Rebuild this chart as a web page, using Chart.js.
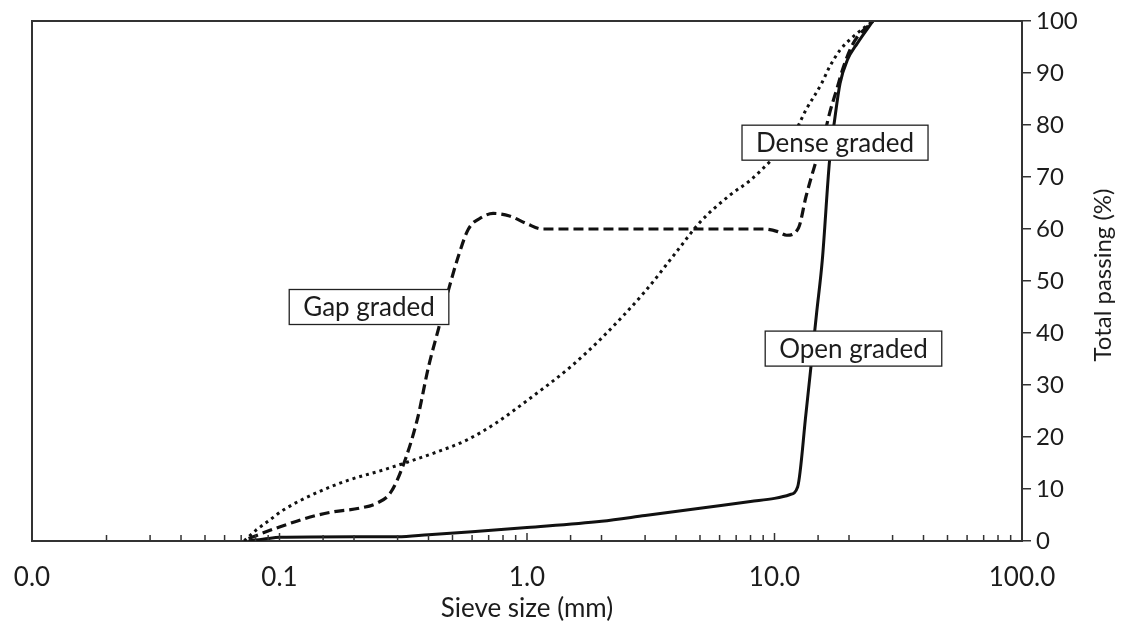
<!DOCTYPE html>
<html lang="en">
<head>
  <meta charset="UTF-8" />
  <title>Aggregate gradation curves</title>
  <script src="https://cdn.jsdelivr.net/npm/chart.js"></script>
  <style>
    html, body { margin: 0; padding: 0; background: #fff; }
  </style>
</head>
<body>
  <canvas id="gradationChart" width="1122" height="628"></canvas>

  <script>
    // Sieve size (mm) and total passing (%) for each gradation
    const openSize = [0.075, 0.09, 0.1, 0.2, 0.3, 0.4, 0.6, 1.0, 2.0, 3.0, 5.0, 8.0, 10.0, 11.5, 12.4, 13.4, 14.8, 15.6, 16.7, 17.5, 18.4, 19.7, 21.6, 25.0];
    const openPass = [0, 0.5, 0.7, 0.8, 0.8, 1.2, 1.8, 2.6, 3.8, 4.9, 6.3, 7.6, 8.2, 8.9, 10.4, 24.5, 43.9, 54.0, 73.3, 81.0, 88.0, 92.5, 95.7, 100];

    const gapSize = [0.075, 0.1, 0.133, 0.164, 0.21, 0.248, 0.28, 0.314, 0.36, 0.40, 0.44, 0.48, 0.53, 0.58, 0.66, 0.73, 0.85, 1.0, 1.15, 2.0, 5.0, 9.0, 10.3, 11.2, 12.5, 13.4, 14.5, 15.6, 16.7, 17.8, 19.0, 20.8, 25.0];
    const gapPass = [0.5, 2.7, 4.6, 5.6, 6.3, 7.3, 9.2, 14.2, 23.3, 33.5, 41.0, 48.0, 55.0, 60.0, 62.3, 63.0, 62.5, 61.0, 60.0, 60.0, 60.0, 60.0, 59.5, 58.8, 60.2, 66.2, 72.0, 76.5, 82.3, 86.7, 91.2, 95.7, 100];

    const denseSize = [0.072, 0.08, 0.09, 0.104, 0.14, 0.19, 0.26, 0.33, 0.42, 0.57, 0.75, 1.0, 1.5, 2.0, 3.0, 4.0, 5.0, 6.6, 8.0, 9.6, 11.6, 13.4, 15.5, 16.7, 18.4, 20.8, 25.0];
    const densePass = [0, 2.0, 3.8, 6.0, 9.2, 11.7, 13.6, 15.2, 16.9, 19.4, 22.7, 27.0, 33.5, 39.0, 48.0, 55.5, 61.3, 66.5, 69.4, 73.0, 77.0, 82.9, 88.0, 91.2, 94.4, 97.0, 100];

    // labelled decades on the sieve axis
    const xDecades = [0.01, 0.1, 1, 10, 100];

    // curve name boxes, anchored in data units (mm, %)
    const curveNotes = [
      { text: 'Gap graded', x: 0.23, y: 45.0 },
      { text: 'Dense graded', x: 17.56, y: 76.6 },
      { text: 'Open graded', x: 20.85, y: 37.0 }
    ];

    const FONT = 'Lato, "Open Sans", sans-serif';
    const INK = '#1c1c1c';

    const toPoints = (xs, ys) => xs.map((x, i) => ({ x: x, y: ys[i] }));
    const isDecade = v => Math.abs(Math.log10(v) - Math.round(Math.log10(v))) < 1e-6;

    // frame, inward sieve ticks, right-hand title and the name boxes
    const decorations = {
      id: 'decorations',
      afterDatasetsDraw(chart) {
        const { ctx, chartArea: a, scales: { x, y } } = chart;
        ctx.save();

        // top and left edges of the plot box
        ctx.strokeStyle = '#333';
        ctx.lineWidth = 2;
        ctx.beginPath();
        ctx.moveTo(a.left, a.bottom);
        ctx.lineTo(a.left, a.top);
        ctx.lineTo(a.right, a.top);
        ctx.stroke();

        // tick marks pointing up into the plot
        ctx.lineWidth = 1.5;
        x.ticks.forEach(t => {
          const px = x.getPixelForValue(t.value);
          const len = isDecade(t.value) ? 8 : 6;
          ctx.beginPath();
          ctx.moveTo(px, a.bottom);
          ctx.lineTo(px, a.bottom - len);
          ctx.stroke();
        });

        // name boxes
        ctx.font = '26px ' + FONT;
        ctx.textAlign = 'center';
        ctx.textBaseline = 'middle';
        curveNotes.forEach(n => {
          const cx = x.getPixelForValue(n.x);
          const cy = y.getPixelForValue(n.y);
          const w = ctx.measureText(n.text).width + 28;
          const h = 35;
          ctx.fillStyle = '#fff';
          ctx.fillRect(cx - w / 2, cy - h / 2, w, h);
          ctx.strokeStyle = '#222';
          ctx.lineWidth = 1.3;
          ctx.strokeRect(cx - w / 2, cy - h / 2, w, h);
          ctx.fillStyle = INK;
          ctx.fillText(n.text, cx, cy + 1);
        });

        // y axis title, reading bottom to top
        ctx.translate(1103, (a.top + a.bottom) / 2 - 6);
        ctx.rotate(-Math.PI / 2);
        ctx.font = '24px ' + FONT;
        ctx.fillStyle = INK;
        ctx.fillText('Total passing (%)', 0, 0);
        ctx.restore();
      }
    };

    const curve = (label, xs, ys, extra) => Object.assign({
      label: label,
      data: toPoints(xs, ys),
      showLine: true,
      borderColor: '#111',
      borderWidth: 3,
      pointRadius: 0,
      cubicInterpolationMode: 'monotone',
      fill: false
    }, extra);

    new Chart(document.getElementById('gradationChart'), {
      type: 'scatter',
      data: {
        datasets: [
          curve('Open graded', openSize, openPass, {}),
          curve('Gap graded', gapSize, gapPass, { borderDash: [10, 5], borderWidth: 3.2 }),
          curve('Dense graded', denseSize, densePass, { borderDash: [3, 4], borderWidth: 3 })
        ]
      },
      options: {
        responsive: false,
        devicePixelRatio: 1,
        animation: false,
        layout: { padding: { left: 32, top: 21, right: 0, bottom: 0 } },
        plugins: {
          legend: { display: false },
          tooltip: { enabled: false }
        },
        scales: {
          x: {
            type: 'logarithmic',
            position: 'bottom',
            min: 0.01,
            max: 100,
            grid: { display: true, drawOnChartArea: false, drawTicks: false },
            border: { display: true, color: '#333', width: 2 },
            ticks: {
              autoSkip: false,
              maxRotation: 0,
              padding: 21,
              color: INK,
              font: { family: FONT, size: 26 },
              callback: v => isDecade(v) && xDecades.some(d => Math.abs(d - v) < 1e-9) ? v.toFixed(1) : ''
            },
            title: {
              display: true,
              text: 'Sieve size (mm)',
              color: INK,
              font: { family: FONT, size: 26 },
              padding: { top: 0, bottom: 4 }
            },
            afterFit: s => {
              s.height = 87;
              // end labels may hang past the plot edges
              s.paddingLeft = 0;
              s.paddingRight = 0;
            }
          },
          y: {
            type: 'linear',
            position: 'right',
            min: 0,
            max: 100,
            grid: { drawOnChartArea: false, drawTicks: true, tickLength: 9, color: '#333', lineWidth: 1.5 },
            border: { display: true, color: '#333', width: 2 },
            ticks: {
              stepSize: 10,
              padding: 5,
              color: INK,
              font: { family: FONT, size: 24 }
            },
            afterFit: s => { s.width = 100; }
          }
        }
      },
      plugins: [decorations]
    });
  </script>
</body>
</html>
